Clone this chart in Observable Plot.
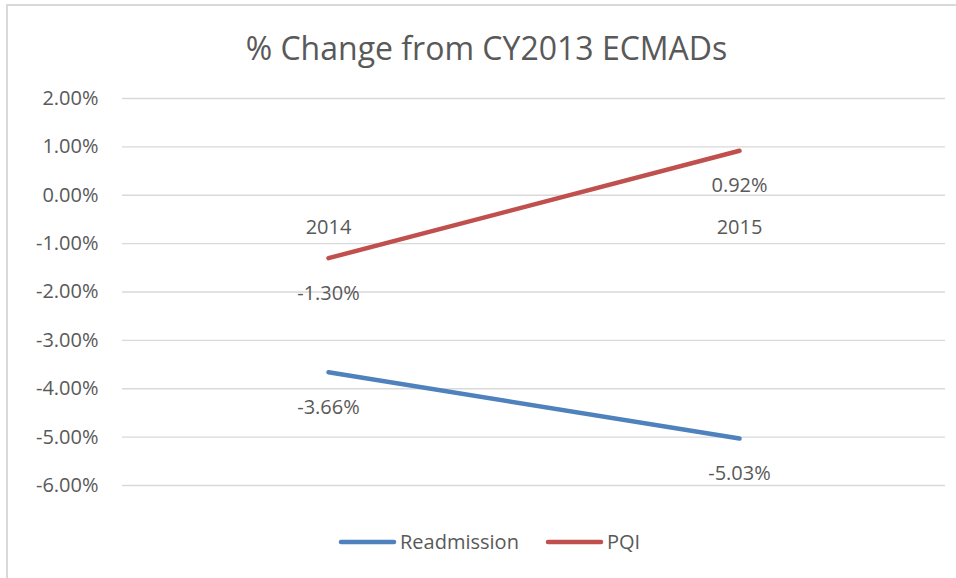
<!DOCTYPE html>
<html>
<head>
<meta charset="utf-8">
<script src="https://cdn.jsdelivr.net/npm/d3@7"></script>
<script src="https://cdn.jsdelivr.net/npm/@observablehq/plot@0.6"></script>
<style>
  html, body { margin: 0; padding: 0; background: #fff; }
  #wrap { position: relative; width: 956px; height: 578px; overflow: hidden; background: #fff; font-family: "Open Sans", sans-serif; color: #595959; }
  #frame { position: absolute; left: 6px; top: 4px; width: 1000px; height: 700px; border-left: 2px solid #D9D9D9; border-top: 2px solid #D9D9D9; box-sizing: border-box; }
  #title { position: absolute; left: 0; width: 973px; top: 26px; text-align: center; font-size: 32px; line-height: 44px; color: #595959; }
  #plot { position: absolute; left: 0; top: 70px; }
  #legend { position: absolute; top: 528px; left: 338px; display: flex; align-items: center; font-size: 20px; line-height: 28px; color: #595959; }
  #legend .item { display: flex; align-items: center; }
  #legend svg { display: block; margin-right: 3px; }
</style>
</head>
<body>
<div id="wrap">
  <div id="frame"></div>
  <div id="title"></div>
  <div id="plot"></div>
  <div id="legend"></div>
</div>
<script>
// ---- data ----
const titleText = "% Change from CY2013 ECMADs";
const years = ["2014", "2015"];
const seriesNames = ["Readmission", "PQI"];
const readmission = [-3.66, -5.03];
const pqi = [-1.30, 0.92];
const yTicks = [2, 1, 0, -1, -2, -3, -4, -5, -6];
const colors = ["#4F81BD", "#C0504D"];

const rows = [];
years.forEach((y, i) => {
  rows.push({year: y, series: seriesNames[0], value: readmission[i]});
  rows.push({year: y, series: seriesNames[1], value: pqi[i]});
});
const fmt = d => d.toFixed(2) + "%";

document.getElementById("title").textContent = titleText;

const chart = Plot.plot({
  width: 956,
  height: 440,
  marginTop: 28,
  marginBottom: 25,
  marginLeft: 122,
  marginRight: 11,
  style: {fontFamily: "Open Sans, sans-serif", fontSize: "20px", color: "#595959", background: "transparent", overflow: "visible"},
  x: {type: "point", domain: years, padding: 0.5, axis: null},
  y: {domain: [-6, 2], axis: null},
  color: {domain: seriesNames, range: colors},
  marks: [
    Plot.gridY(yTicks, {stroke: "#D9D9D9", strokeOpacity: 1, strokeWidth: 1.3}),
    Plot.axisY(yTicks, {tickSize: 0, tickPadding: 24, tickFormat: fmt, label: null, fontSize: 20, fill: "#595959"}),
    Plot.text(years, {x: d => d, y: () => 0, dy: 32, text: d => d, fill: "#595959", fontSize: 20}),
    Plot.line(rows, {x: "year", y: "value", z: "series", stroke: "series", strokeWidth: 4.5, strokeLinecap: "round", strokeLinejoin: "round"}),
    Plot.text(rows, {x: "year", y: "value", dy: 35, text: d => fmt(d.value), fill: "#595959", fontSize: 20})
  ]
});
document.getElementById("plot").appendChild(chart);

// legend
const legend = document.getElementById("legend");
seriesNames.forEach((name, i) => {
  const item = document.createElement("div");
  item.className = "item";
  if (i > 0) item.style.marginLeft = "26px";
  item.innerHTML = `<svg width="59" height="10"><line x1="3" y1="5" x2="56" y2="5" stroke="${colors[i]}" stroke-width="4.5" stroke-linecap="round"/></svg><span>${name}</span>`;
  legend.appendChild(item);
});
</script>
</body>
</html>
